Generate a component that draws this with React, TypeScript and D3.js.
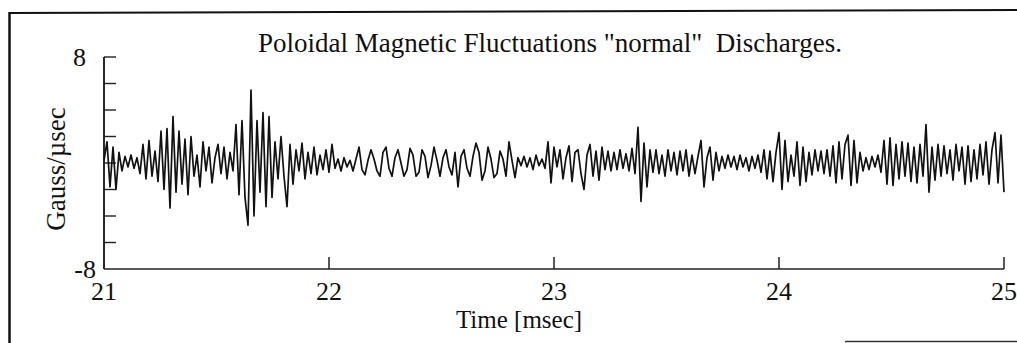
import React from "react";
import * as d3 from "d3";

const T_START = 21;
const T_END = 25;

const signal: number[] = [
  0.2, 1.6, -1.8, 1.2, -2.0, 0.8, -0.6, 0.5, -0.3, 0.6,
  -0.4, 0.4, -0.8, 1.4, -1.2, 1.7, -1.0, 0.9, -1.4, 2.4,
  -2.0, 2.6, -3.4, 3.5, -2.2, 2.4, -1.6, 1.8, -2.4, 2.0,
  -1.0, 0.6, -1.8, 1.6, -0.6, 1.2, -1.5, 0.4, 1.4, -0.8,
  1.2, -1.2, 0.8, -0.6, 2.9, -2.4, 3.2, -2.6, -4.7, 5.5,
  -4.0, 3.2, -2.2, 3.8, -3.3, 3.5, -2.6, 1.6, -1.2, 2.0,
  -1.0, -3.3, 1.4, -1.6, 1.0, -0.6, 1.5, -1.2, 0.8, -0.8,
  1.2, -0.9, 0.6, -0.5, 1.0, -0.7, 1.4, -0.4, 0.3, -0.6,
  0.4, -0.3, 0.2, -0.6, 0.3, 1.2, -0.5, -0.9, 0.2, 1.0,
  0.3, -0.6, -1.0, 0.8, 1.2, -0.4, -1.0, 0.4, 1.0, 0.0,
  -1.0, -0.5, 1.1, 0.6, -1.0, -0.7, 1.0, 0.5, -1.1, -0.2,
  1.2, 0.2, -1.0, 0.4, 1.0, -0.3, -0.9, 0.8, -1.8, 0.5,
  1.0, -0.4, -1.0, 0.5, 1.5, 0.8, -1.3, -0.6, 1.2, 0.3,
  -1.1, -0.8, 0.9, 0.3, -1.0, 1.6, 0.2, -1.1, 0.4, -0.2,
  0.5, -0.3, 0.4, -0.5, 0.6, -0.2, 0.3, -0.4, 1.6, -1.5,
  1.2, -0.3, 1.0, -1.2, 0.4, 1.3, -1.4, 0.8, 1.0, -0.8,
  -2.0, 0.6, 1.4, -1.0, 0.9, -1.3, 1.2, -0.5, 0.9, -0.6,
  0.8, -0.5, 1.0, -0.4, 0.7, -0.6, 1.1, -0.8, 2.7, -2.9,
  1.5, -1.8, 1.0, -0.7, 1.0, -0.8, 0.6, -1.0, 1.0, -0.6,
  0.8, -0.9, 0.9, -0.6, 1.0, -1.0, 0.6, -0.8, 0.5, 1.7,
  -1.8, 0.4, 1.2, -1.3, 0.8, -0.6, 0.5, -0.4, 0.6, -0.3,
  0.5, -0.5, 0.6, -0.3, 0.4, -0.6, 0.5, -0.4, 0.6, -0.7,
  1.0, -1.2, 0.9, -1.4, 0.8, 2.3, -2.0, 1.7, -1.4, 0.6,
  -1.0, 1.6, -1.7, 1.2, -1.4, 0.8, -0.9, 1.0, -0.6, 0.9,
  -0.8, 1.0, -1.0, 1.3, -1.5, 1.6, -1.2, 1.4, 2.1, -1.7,
  1.7, -1.5, 0.8, -0.6, 0.4, -0.5, 0.5, -0.3, 0.6, -0.7,
  1.7, -1.6, 1.9, -1.7, 1.4, -1.2, 1.6, -1.0, 1.5, -1.4,
  1.2, -1.5, 1.4, -1.0, 2.9, -2.2, 1.2, -1.3, 1.4, -1.0,
  1.3, -0.8, 1.0, -1.3, 1.4, -0.6, 1.2, -1.6, 1.3, -1.4,
  1.0, -1.2, 1.4, -0.9, 1.6, -1.6, 1.0, 2.3, -1.5, 2.1,
  -2.2,
];

const xTickLabels = [21, 22, 23, 24, 25];
const xTickMarks = [22, 23, 24, 25];
const yTickMarks = [8, 6, 4, 2, 0, -2, -4, -6];
const yTickLabels = [8, -8];

const TITLE = 'Poloidal Magnetic Fluctuations "normal"  Discharges.';
const X_TITLE = "Time [msec]";
const Y_TITLE = "Gauss/\u00b5sec";

const FONT = "'Liberation Serif', 'Times New Roman', serif";

export default function App() {
  const W = 1017;
  const H = 343;
  const left = 104;
  const right = 1004;
  const top = 57;
  const bottom = 269;

  const x = d3.scaleLinear().domain([T_START, T_END]).range([left, right]);
  const y = d3.scaleLinear().domain([-8, 8]).range([bottom, top]);

  const pts: [number, number][] = signal.map((v, i) => [
    T_START + (i * (T_END - T_START)) / (signal.length - 1),
    v,
  ]);
  const line = d3
    .line<[number, number]>()
    .x((d) => x(d[0]))
    .y((d) => y(d[1]))
    .curve(d3.curveLinear);

  return (
    <svg
      width={W}
      height={H}
      style={{ position: "absolute", left: 0, top: 0, background: "#fff" }}
      fontFamily={FONT}
    >
      <rect x={0} y={0} width={W} height={H} fill="#fff" />
      {/* scanned page frame */}
      <line x1={9} y1={13} x2={1017} y2={10} stroke="#111" strokeWidth={2} />
      <line x1={9.5} y1={12} x2={9.5} y2={343} stroke="#111" strokeWidth={2.5} />
      <line x1={845} y1={341.5} x2={1017} y2={341.5} stroke="#333" strokeWidth={1.5} />

      <text x={550} y={52} fontSize={27} textAnchor="middle" fill="#111" xmlSpace="preserve" style={{ whiteSpace: "pre" }}>
        {TITLE}
      </text>

      {/* axes */}
      <line x1={left} y1={y(8)} x2={left} y2={bottom} stroke="#111" strokeWidth={1.8} />
      <line x1={left} y1={bottom} x2={right} y2={bottom} stroke="#222" strokeWidth={1.5} />
      {yTickMarks.map((v) => (
        <line
          key={"yt" + v}
          x1={left}
          x2={left + 12}
          y1={y(v)}
          y2={y(v)}
          stroke="#222"
          strokeWidth={1.4}
        />
      ))}
      {xTickMarks.map((v) => (
        <line
          key={"xt" + v}
          x1={x(v)}
          x2={x(v)}
          y1={bottom}
          y2={bottom - 12}
          stroke="#222"
          strokeWidth={1.5}
        />
      ))}
      {xTickLabels.map((v) => (
        <text
          key={"xl" + v}
          x={x(v)}
          y={300}
          fontSize={26}
          textAnchor="middle"
          fill="#111"
        >
          {v}
        </text>
      ))}
      {yTickLabels.map((v) => (
        <text
          key={"yl" + v}
          x={v > 0 ? 86 : 96}
          y={y(v) + 9}
          fontSize={26}
          textAnchor="end"
          fill="#111"
        >
          {v}
        </text>
      ))}
      <text x={519} y={328} fontSize={25} textAnchor="middle" fill="#111">
        {X_TITLE}
      </text>
      <text
        transform={`translate(65, 169) rotate(-90)`}
        fontSize={27}
        textAnchor="middle"
        fill="#111"
      >
        {Y_TITLE}
      </text>

      <path
        d={line(pts) || ""}
        fill="none"
        stroke="#111"
        strokeWidth={1.7}
        strokeLinejoin="round"
      />
    </svg>
  );
}
